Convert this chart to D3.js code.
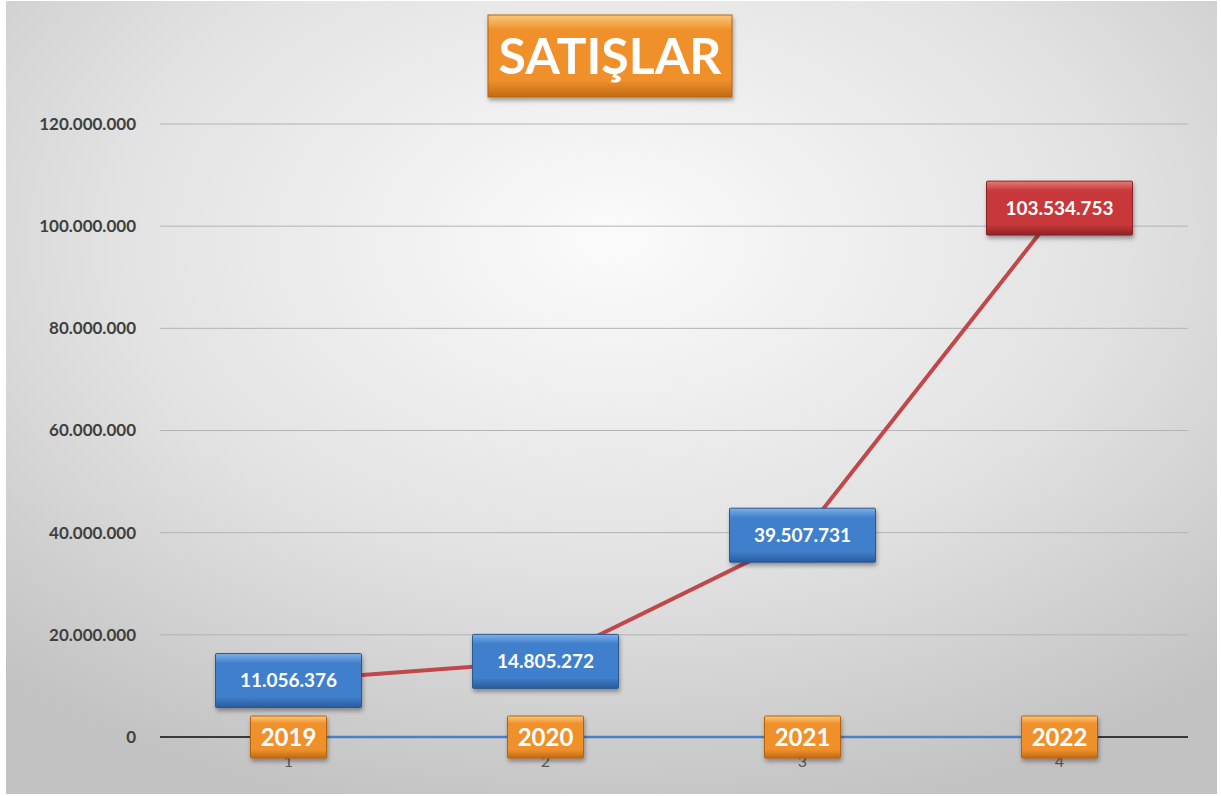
<!DOCTYPE html>
<html>
<head>
<meta charset="utf-8">
<script src="https://cdn.jsdelivr.net/npm/d3@7"></script>
<style>
  body { margin: 0; background: #fff; }
  svg text { font-family: Lato, "Open Sans", sans-serif; }
</style>
</head>
<body>
<svg id="chart" width="1221" height="796"></svg>
<script>
// chart data
var years = ["2019", "2020", "2021", "2022"];
var categories = ["1", "2", "3", "4"];
var sales = [11056376, 14805272, 39507731, 103534753];
var zeroSeries = [0, 0, 0, 0];
var yTicks = [0, 20000000, 40000000, 60000000, 80000000, 100000000, 120000000];
var title = "SATIŞLAR";

var svg = d3.select("#chart");
var defs = svg.append("defs");

// background gradient
var bg = defs.append("radialGradient").attr("id", "bg")
    .attr("cx", "0.5").attr("cy", "0.3").attr("r", "0.75");
bg.append("stop").attr("offset", "0%").attr("stop-color", "#fbfbfb");
bg.append("stop").attr("offset", "55%").attr("stop-color", "#e2e2e2");
bg.append("stop").attr("offset", "100%").attr("stop-color", "#c2c2c2");

// bevel gradients for the boxes
function bevel(id, top, mid, bottom) {
    var g = defs.append("linearGradient").attr("id", id)
        .attr("x1", 0).attr("y1", 0).attr("x2", 0).attr("y2", 1);
    g.append("stop").attr("offset", "0%").attr("stop-color", top);
    g.append("stop").attr("offset", "18%").attr("stop-color", mid);
    g.append("stop").attr("offset", "80%").attr("stop-color", mid);
    g.append("stop").attr("offset", "100%").attr("stop-color", bottom);
}
bevel("blueBox", "#7fb0e6", "#3f7fcc", "#2a5b9c");
bevel("redBox", "#e87b76", "#c8383a", "#8f2224");
bevel("orangeBox", "#fbc87a", "#f0902c", "#c26a12");

var shadow = defs.append("filter").attr("id", "shadow")
    .attr("x", "-10%").attr("y", "-10%").attr("width", "130%").attr("height", "140%");
shadow.append("feDropShadow").attr("dx", 1).attr("dy", 3).attr("stdDeviation", 2)
    .attr("flood-color", "#000").attr("flood-opacity", 0.35);

svg.append("rect").attr("x", 6).attr("y", 1).attr("width", 1211).attr("height", 793)
    .attr("fill", "url(#bg)");

var left = 160, right = 1188;
var x = d3.scaleBand().domain(categories).range([left, right]);
var y = d3.scaleLinear().domain([0, 120000000]).range([737, 124]);
var fmt = function (v) { return d3.format(",")(v).replace(/,/g, "."); };

// gridlines
svg.append("g").selectAll("line").data(yTicks.slice(1)).join("line")
    .attr("x1", left).attr("x2", right)
    .attr("y1", function (d) { return y(d); }).attr("y2", function (d) { return y(d); })
    .attr("stroke", "#b4b4b4").attr("stroke-width", 1);

// y axis labels
var yAxis = svg.append("g").attr("transform", "translate(136,0)")
    .call(d3.axisLeft(y).tickValues(yTicks).tickSize(0).tickPadding(0).tickFormat(fmt));
yAxis.select(".domain").remove();
yAxis.selectAll("text").attr("font-size", 17).attr("font-weight", "bold")
    .attr("fill", "#404040").attr("dy", "0.32em");

// category axis labels (1..4)
var xAxis = svg.append("g").attr("transform", "translate(0,756)")
    .call(d3.axisBottom(x).tickSize(0).tickPadding(0));
xAxis.select(".domain").remove();
xAxis.selectAll("text").attr("font-size", 16).attr("fill", "#595959");

// zero axis line
svg.append("line").attr("x1", left).attr("x2", right)
    .attr("y1", y(0)).attr("y2", y(0))
    .attr("stroke", "#3a3a3a").attr("stroke-width", 2);

var cx = function (d, i) { return x(categories[i]) + x.bandwidth() / 2; };

// zero series (blue line)
svg.append("path").datum(zeroSeries)
    .attr("d", d3.line().x(cx).y(function (d) { return y(d); }))
    .attr("fill", "none").attr("stroke", "#4a80c4").attr("stroke-width", 2.5);

// sales series (red line)
svg.append("path").datum(sales)
    .attr("d", d3.line().x(cx).y(function (d) { return y(d); }))
    .attr("fill", "none").attr("stroke", "#c0484a").attr("stroke-width", 4);

// value labels
var vl = svg.append("g").selectAll("g").data(sales).join("g")
    .attr("transform", function (d, i) { return "translate(" + cx(d, i) + "," + y(d) + ")"; });
vl.append("rect")
    .attr("x", -73).attr("y", -27).attr("width", 146).attr("height", 54).attr("rx", 1)
    .attr("fill", function (d, i) { return i === sales.length - 1 ? "url(#redBox)" : "url(#blueBox)"; })
    .attr("stroke", function (d, i) { return i === sales.length - 1 ? "#8a2426" : "#2a5890"; })
    .attr("filter", "url(#shadow)");
vl.append("text").attr("text-anchor", "middle").attr("dy", "0.36em")
    .attr("font-size", 19).attr("font-weight", "bold").attr("fill", "#fff")
    .text(function (d) { return fmt(d); });

// year labels on the zero series
var yl = svg.append("g").selectAll("g").data(zeroSeries).join("g")
    .attr("transform", function (d, i) { return "translate(" + cx(d, i) + "," + y(d) + ")"; });
yl.append("rect")
    .attr("x", -38).attr("y", -21).attr("width", 76).attr("height", 42).attr("rx", 1)
    .attr("fill", "url(#orangeBox)").attr("stroke", "#b5640f")
    .attr("filter", "url(#shadow)");
yl.append("text").attr("text-anchor", "middle").attr("dy", "0.36em")
    .attr("font-size", 24).attr("font-weight", "bold").attr("fill", "#fff")
    .text(function (d, i) { return years[i]; });

// title
var tg = svg.append("g").attr("transform", "translate(610,56)");
tg.append("rect").attr("x", -122).attr("y", -41).attr("width", 244).attr("height", 82)
    .attr("fill", "url(#orangeBox)").attr("stroke", "#b5640f")
    .attr("filter", "url(#shadow)");
tg.append("text").attr("text-anchor", "middle").attr("dy", "0.36em")
    .attr("font-size", 50).attr("font-weight", "bold").attr("fill", "#fff")
    .text(title);
</script>
</body>
</html>
